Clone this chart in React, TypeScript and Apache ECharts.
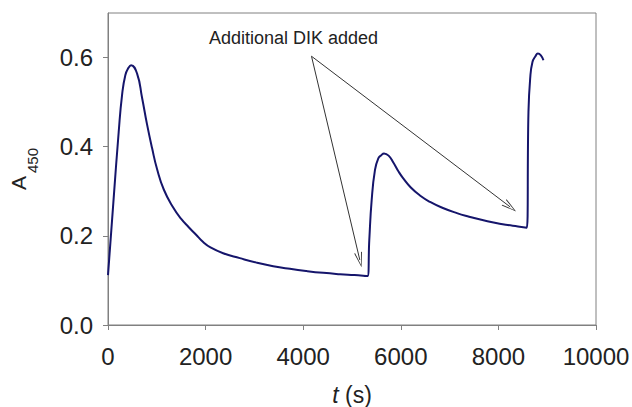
import React, { useEffect, useRef } from "react";
import * as echarts from "echarts";

const timeS = [0, 110, 219, 288, 356, 420, 473, 596, 698, 800, 903, 1005, 1143, 1333, 1500, 1650, 1800, 1950, 2100, 2359, 2701, 3044, 3385, 3727, 4070, 4410, 4753, 5050, 5318, 5354, 5403, 5471, 5539, 5600, 5656, 5750, 5850, 5950, 6050, 6200, 6400, 6600, 6850, 7150, 7400, 7650, 7900, 8150, 8400, 8582, 8616, 8651, 8698, 8760, 8808, 8870, 8923];
const a450 = [0.112, 0.275, 0.433, 0.516, 0.561, 0.577, 0.583, 0.564, 0.510, 0.450, 0.397, 0.350, 0.304, 0.264, 0.238, 0.220, 0.203, 0.186, 0.174, 0.161, 0.150, 0.140, 0.132, 0.126, 0.121, 0.117, 0.114, 0.112, 0.110, 0.190, 0.280, 0.348, 0.374, 0.381, 0.385, 0.380, 0.364, 0.345, 0.329, 0.309, 0.290, 0.276, 0.263, 0.251, 0.243, 0.236, 0.230, 0.225, 0.221, 0.218, 0.478, 0.553, 0.590, 0.603, 0.609, 0.605, 0.594];

const xTicks = [0, 2000, 4000, 6000, 8000, 10000];
const yTicks = [0, 0.2, 0.4, 0.6];

const annotationText = "Additional DIK added";
const arrowStart = [4170, 0.603];
const arrowEnds = [
  [5160, 0.146],
  [8240, 0.265],
];

const FONT = '"Liberation Sans", Arial, sans-serif';
const AXIS_GRAY = "#808080";
const TEXT = "#222222";

export default function App() {
  const ref = useRef<HTMLDivElement>(null);

  useEffect(() => {
    if (!ref.current) return;
    const chart = echarts.init(ref.current, undefined, { renderer: "svg" });
    const data = timeS.map((t, i) => [t, a450[i]]);
    const chevron = "path://M4,0 L8,15 L7,15 L4,2.5 L1,15 L0,15 Z";

    chart.setOption({
      animation: false,
      backgroundColor: "#ffffff",
      grid: {
        left: 108,
        right: 36,
        top: 13,
        bottom: 82,
        show: true,
        borderColor: AXIS_GRAY,
        borderWidth: 1,
        containLabel: false,
        outerBoundsMode: "none",
      },
      xAxis: {
        type: "value",
        min: 0,
        max: 10000,
        interval: 2000,
        splitLine: { show: false },
        axisLine: { show: true, lineStyle: { color: AXIS_GRAY, width: 1 } },
        axisTick: { show: true, length: 5, inside: false, lineStyle: { color: AXIS_GRAY }, customValues: xTicks },
        axisLabel: {
          color: TEXT,
          fontFamily: FONT,
          fontSize: 24,
          margin: 19,
          customValues: xTicks,
          formatter: (v: number) => String(v),
        },
        name: "{i|t} (s)",
        nameLocation: "middle",
        nameGap: 58,
        nameTextStyle: {
          color: TEXT,
          fontFamily: FONT,
          fontSize: 23,
          rich: { i: { fontStyle: "italic", fontFamily: FONT, fontSize: 23, color: TEXT } },
        },
      },
      yAxis: {
        type: "value",
        min: 0,
        max: 0.7,
        interval: 0.2,
        splitLine: { show: false },
        axisLine: { show: true, lineStyle: { color: AXIS_GRAY, width: 1 } },
        axisTick: { show: true, length: 5, inside: false, lineStyle: { color: AXIS_GRAY }, customValues: yTicks },
        axisLabel: {
          color: TEXT,
          fontFamily: FONT,
          fontSize: 24,
          margin: 15,
          customValues: yTicks,
          formatter: (v: number) => v.toFixed(1),
        },
      },
      graphic: [
        {
          type: "text",
          x: 18,
          y: 183,
          rotation: Math.PI / 2,
          style: { text: "A", fill: TEXT, font: `21px ${FONT}`, textAlign: "center", textVerticalAlign: "middle" },
        },
        {
          type: "text",
          x: 32,
          y: 160.5,
          rotation: Math.PI / 2,
          style: { text: "450", fill: TEXT, font: `15px ${FONT}`, textAlign: "center", textVerticalAlign: "middle" },
        },
        {
          type: "text",
          x: 209,
          y: 38,
          style: { text: annotationText, fill: TEXT, font: `18px ${FONT}`, textAlign: "left", textVerticalAlign: "middle" },
        },
      ],
      series: [
        {
          type: "line",
          data,
          showSymbol: false,
          smooth: 0.5,
          lineStyle: { color: "#15156b", width: 2 },
          itemStyle: { color: "#15156b" },
          silent: true,
          markLine: {
            silent: true,
            animation: false,
            symbol: ["none", chevron],
            symbolSize: [8, 15],
            label: { show: false },
            emphasis: { disabled: true },
            lineStyle: { color: "#333333", width: 1, type: "solid" },
            data: arrowEnds.map((e) => [
              { coord: arrowStart },
              { coord: e },
            ]),
          },
        },
      ],
    });
    return () => chart.dispose();
  }, []);

  return (
    <div
      ref={ref}
      style={{ position: "fixed", left: 0, top: 0, width: 632, height: 407, background: "#fff" }}
    />
  );
}
